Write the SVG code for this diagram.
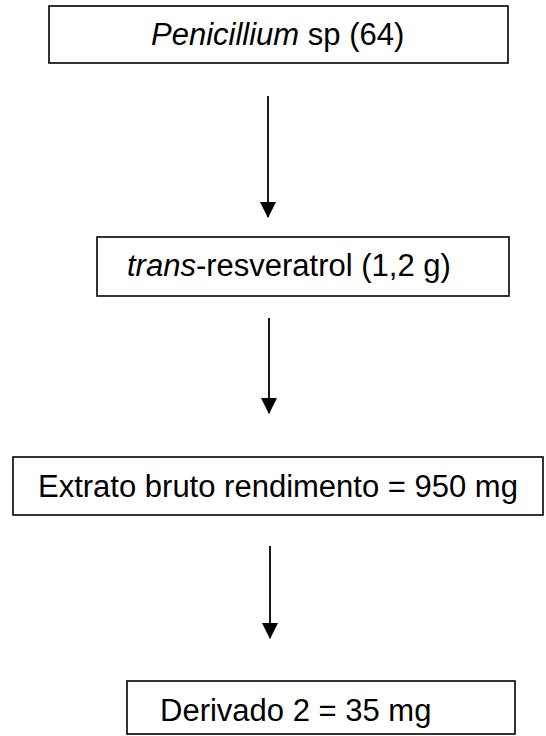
<svg xmlns="http://www.w3.org/2000/svg" width="546" height="736" viewBox="0 0 546 736">
<style>
.box{fill:#fff;stroke:#000;stroke-width:1.6}
.t{font-family:"Liberation Sans",Arial,sans-serif;font-size:31px;fill:#000}
.i{font-style:italic}
.c{stroke:#000;stroke-width:1.8;fill:none}
</style>
<defs>
<marker id="ah" markerUnits="userSpaceOnUse" markerWidth="16" markerHeight="18" refX="15" refY="8" orient="auto" viewBox="0 0 16 16">
<path d="M0,0 L16,8 L0,16 Z" fill="#000"/>
</marker>
</defs>
<rect width="546" height="736" fill="#fff"/>
<g id="n1"><rect class="box" x="49" y="6" width="459" height="57"/><text class="t" x="151" y="45"><tspan class="i">Penicillium</tspan> sp (64)</text></g>
<g id="n2"><rect class="box" x="97" y="237" width="412" height="59"/><text class="t" x="127" y="276"><tspan class="i">trans</tspan>-resveratrol (1,2 g)</text></g>
<g id="n3"><rect class="box" x="13" y="457" width="530" height="58"/><text class="t" x="38" y="497">Extrato bruto rendimento = 950 mg</text></g>
<g id="n4"><rect class="box" x="127" y="681" width="388" height="53"/><text class="t" x="160" y="721">Derivado 2 = 35 mg</text></g>
<g id="connectors">
<line class="c" x1="268" y1="96" x2="268" y2="217" marker-end="url(#ah)"/>
<line class="c" x1="269" y1="318" x2="269" y2="413" marker-end="url(#ah)"/>
<line class="c" x1="270" y1="546" x2="270" y2="638" marker-end="url(#ah)"/>
</g>
</svg>
